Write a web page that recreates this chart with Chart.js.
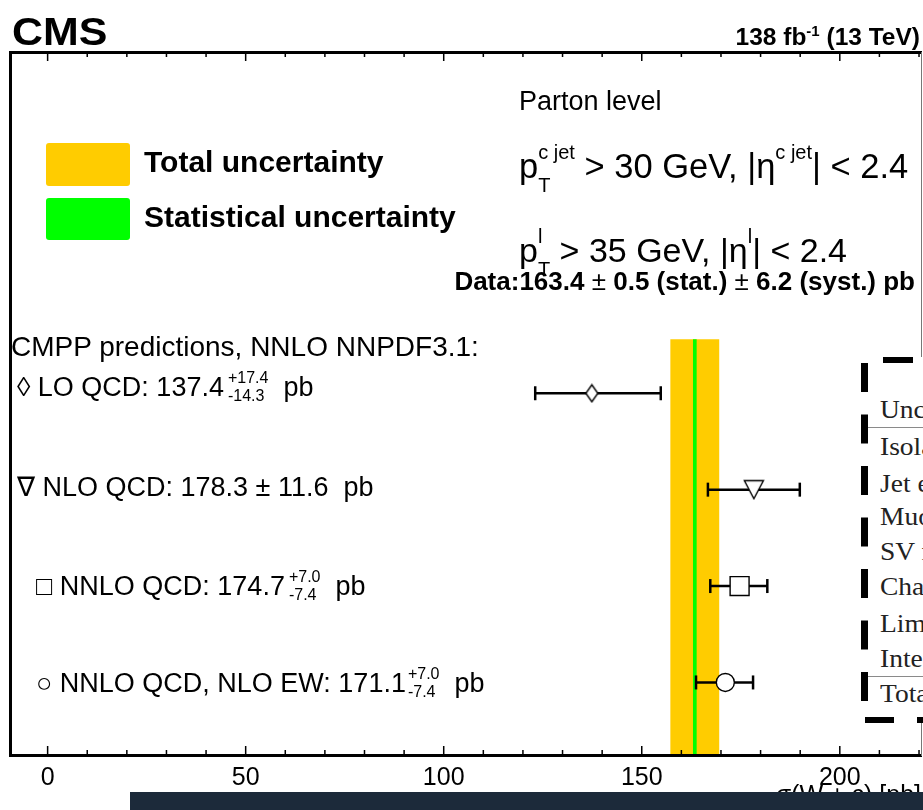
<!DOCTYPE html>
<html>
<head>
<meta charset="utf-8">
<script src="https://cdn.jsdelivr.net/npm/chart.js@4.4.1/dist/chart.umd.min.js"></script>
<style>
  html, body { margin: 0; padding: 0; background: #fff; overflow: hidden; }
  #wrap { position: relative; width: 923px; height: 810px; overflow: hidden;
          font-family: "Liberation Sans", Arial, Helvetica, sans-serif; color: #000; }
  #chart { position: absolute; left: 0; top: 0; }
  .t { position: absolute; white-space: nowrap; }
  .b { font-weight: bold; }
  .sc { display: inline-block; position: relative; text-align: left; vertical-align: baseline; }
  .sc > span { display: block; }
  .sup1 { position: relative; }
  .box { position: absolute; border-radius: 3px; }
  #table { position: absolute; left: 861px; top: 357px; width: 200px; height: 366px; background: #fff;
           font-family: "Liberation Serif", "DejaVu Serif", serif; font-size: 25px; color: #222; }
  #table .r { position: absolute; left: 19px; white-space: nowrap; line-height: 24px;
              transform: scaleX(1.1); transform-origin: 0 50%; }
  #table .rule { position: absolute; left: 7px; width: 200px; height: 1px; background: #8a8a8a; }
  #dashes { position: absolute; left: 850px; top: 345px; }
  #darkbar { position: absolute; left: 130px; top: 792px; width: 793px; height: 18px; background: #1c2a3a; }
</style>
</head>
<body>
<div id="wrap">
  <canvas id="chart" width="923" height="810"></canvas>

  <!-- header -->
  <div class="t b" data-b="45" data-s="38" style="left:12px;transform:scaleX(1.13);transform-origin:0 50%;">CMS</div>
  <div class="t b" data-b="45" data-s="24.5" style="right:3px;">138 fb<span style="font-size:15px;position:relative;top:-9px;">-1</span> (13 TeV)</div>

  <!-- legend -->
  <div class="box" style="left:46px;top:143px;width:84px;height:43px;background:#FFCC00;"></div>
  <div class="box" style="left:46px;top:198px;width:84px;height:42px;background:#00FF00;"></div>
  <div class="t b" data-b="172" data-s="30" style="left:144px;">Total uncertainty</div>
  <div class="t b" data-b="227" data-s="30" style="left:144px;">Statistical uncertainty</div>

  <!-- selection text -->
  <div class="t" data-b="110" data-s="27" style="left:519px;">Parton level</div>
  <div class="t" data-b="168" data-s="34.5" style="left:519px;">p<span class="sc" style="font-size:20px;line-height:33px;top:14px;"><span>c jet</span><span>T</span></span> &gt; 30 GeV, |η<span class="sup1" style="font-size:20px;top:-19px;">c jet</span>| &lt; 2.4</div>
  <div class="t" data-b="252" data-s="34" style="left:519px;">p<span class="sc" style="font-size:20px;line-height:33px;top:14px;"><span>l</span><span>T</span></span> &gt; 35 GeV, |η<span class="sup1" style="font-size:20px;top:-19px;">l</span>| &lt; 2.4</div>
  <div class="t b" data-b="290" data-s="26" style="right:8px;">Data:163.4 <span style="font-weight:normal">±</span> 0.5 (stat.) <span style="font-weight:normal">±</span> 6.2 (syst.) pb</div>

  <!-- predictions text -->
  <div class="t" data-b="357" data-s="28" style="left:11px;">CMPP predictions, NNLO NNPDF3.1:</div>
  <div class="t" data-b="396" data-s="27" style="left:17px;">◊ LO QCD: 137.4<span class="sc" style="font-size:16px;line-height:18px;top:5px;margin-left:4px;"><span>+17.4</span><span>-14.3</span></span>&nbsp; pb</div>
  <div class="t" data-b="496" data-s="27" style="left:17px;">∇ NLO QCD: 178.3 ± 11.6&nbsp; pb</div>
  <div class="t" data-b="595" data-s="27" style="left:36px;">□ NNLO QCD: 174.7<span class="sc" style="font-size:16px;line-height:18px;top:5px;margin-left:4px;"><span>+7.0</span><span>-7.4</span></span>&nbsp; pb</div>
  <div class="t" data-b="692" data-s="27" style="left:36px;">○ NNLO QCD, NLO EW: 171.1<span class="sc" style="font-size:16px;line-height:18px;top:5px;margin-left:2px;"><span>+7.0</span><span>-7.4</span></span>&nbsp; pb</div>

  <!-- inset table (cropped) -->
  <div id="table">
    <div class="r" style="top:41px;">Uncertainty source</div>
    <div class="rule" style="top:70px;"></div>
    <div class="r" style="top:78px;">Isolated lepton</div>
    <div class="r" style="top:115px;">Jet energy scale</div>
    <div class="r" style="top:148px;">Muon identification</div>
    <div class="r" style="top:183px;">SV mass</div>
    <div class="r" style="top:218px;">Charm fragmentation</div>
    <div class="r" style="top:255px;">Limited MC statistics</div>
    <div class="r" style="top:290px;">Integrated luminosity</div>
    <div class="rule" style="top:319px;"></div>
    <div class="r" style="top:325px;">Total</div>
  </div>
  <svg id="dashes" width="80" height="390" viewBox="850 345 80 390">
    <line x1="864.5" y1="363" x2="864.5" y2="723" stroke="#000" stroke-width="7" stroke-dasharray="29 22.5"/>
    <line x1="883" y1="360" x2="930" y2="360" stroke="#000" stroke-width="6" stroke-dasharray="30 22"/>
    <line x1="865" y1="720" x2="930" y2="720" stroke="#000" stroke-width="6" stroke-dasharray="29 23"/>
  </svg>

  <div id="darkbar"></div>
</div>

<script>
// ---------------- data ----------------
const predictionNames   = ['LO QCD', 'NLO QCD', 'NNLO QCD', 'NNLO QCD, NLO EW'];
const predictionValues  = [137.4, 178.3, 174.7, 171.1];
const predictionErrUp   = [17.4, 11.6, 7.0, 7.0];
const predictionErrDown = [14.3, 11.6, 7.4, 7.4];
const rowPositions      = [4, 3, 2, 1];
const measuredValue     = 163.4;
const measuredStat      = 0.5;
const measuredSyst      = 6.2;
const xTickValues       = [0, 10, 20, 30, 40, 50, 60, 70, 80, 90, 100, 110, 120, 130, 140, 150, 160, 170, 180, 190, 200, 210, 220];
const xTickLabels       = ['0', '50', '100', '150', '200'];

// ---------------- layout (not data) ----------------
const X_MIN = -9.5, X_MAX = 220.5;
const Y_MIN = 0.2474, Y_MAX = 7.540;
const BAND_TOP = 4.561;

// position text overlays by baseline
document.querySelectorAll('.t').forEach(el => {
  const s = parseFloat(el.dataset.s), b = parseFloat(el.dataset.b);
  const lh = 2 * s;
  el.style.fontSize = s + 'px';
  el.style.lineHeight = lh + 'px';
  el.style.top = (b - (0.905 * s + (lh - 1.117 * s) / 2)) + 'px';
});

function makeMarker(w, h, draw) {
  const c = document.createElement('canvas');
  c.width = w; c.height = h;
  const g = c.getContext('2d');
  g.fillStyle = '#fff'; g.strokeStyle = '#000'; g.lineWidth = 1.4;
  draw(g, w, h);
  return c;
}
const diamondMarker = makeMarker(15, 20, (g, w, h) => {
  g.beginPath(); g.moveTo(w / 2, 1.5); g.lineTo(w - 1.5, h / 2); g.lineTo(w / 2, h - 1.5); g.lineTo(1.5, h / 2);
  g.closePath(); g.fill(); g.stroke();
});
const triangleMarker = makeMarker(22, 21, (g, w, h) => {
  g.beginPath(); g.moveTo(1.5, 1.5); g.lineTo(w - 1.5, 1.5); g.lineTo(w / 2, h - 1.5);
  g.closePath(); g.fill(); g.stroke();
});
const markerStyles = [diamondMarker, triangleMarker, 'rect', 'circle'];
const markerRadius = [8, 10, 13.4, 9];

const totalUnc = Math.sqrt(measuredStat * measuredStat + measuredSyst * measuredSyst);

const datasets = [];
datasets.push({
  type: 'line', order: 20,
  data: [{x: measuredValue - totalUnc, y: BAND_TOP}, {x: measuredValue + totalUnc, y: BAND_TOP}],
  borderWidth: 0, pointRadius: 0, fill: 'start', backgroundColor: '#FFCC00', tension: 0
});
datasets.push({
  type: 'line', order: 19,
  data: [{x: measuredValue - measuredStat, y: BAND_TOP}, {x: measuredValue + measuredStat, y: BAND_TOP}],
  borderWidth: 0, pointRadius: 0, fill: 'start', backgroundColor: '#00FF00', tension: 0
});
predictionValues.forEach((v, i) => {
  datasets.push({
    type: 'line', order: 10,
    data: [{x: v - predictionErrDown[i], y: rowPositions[i]}, {x: v + predictionErrUp[i], y: rowPositions[i]}],
    borderColor: '#000', borderWidth: 2.5, fill: false, tension: 0,
    pointStyle: 'line', pointRotation: 90, pointRadius: 7, pointBorderWidth: 2.5,
    pointBorderColor: '#000', pointBackgroundColor: '#000'
  });
});
predictionValues.forEach((v, i) => {
  datasets.push({
    type: 'scatter', order: 1, label: predictionNames[i],
    data: [{x: v, y: rowPositions[i]}],
    pointStyle: markerStyles[i], pointRadius: markerRadius[i],
    pointBackgroundColor: '#fff', pointBorderColor: '#000', pointBorderWidth: 1.4
  });
});

const frameTicks = {
  id: 'frameTicks',
  afterDraw(chart) {
    const {ctx, chartArea: a, scales: {x}} = chart;
    ctx.save();
    ctx.strokeStyle = '#000';
    ctx.lineWidth = 1.5;
    x.ticks.forEach(t => {
      const px = x.getPixelForValue(t.value);
      const len = (t.value % 50 === 0) ? 9 : 5;
      ctx.beginPath();
      ctx.moveTo(px, a.bottom); ctx.lineTo(px, a.bottom - len);
      ctx.moveTo(px, a.top);    ctx.lineTo(px, a.top + len);
      ctx.stroke();
    });
    ctx.restore();
  }
};

function zeroSize(scale) {
  if (scale.isHorizontal()) scale.height = 0; else scale.width = 0;
  scale.paddingLeft = scale.paddingRight = scale.paddingTop = scale.paddingBottom = 0;
}
const hiddenAxis = (pos, width, color) => ({
  type: 'linear', position: pos, display: true,
  min: (pos === 'top') ? X_MIN : Y_MIN, max: (pos === 'top') ? X_MAX : Y_MAX,
  ticks: {display: false},
  grid: {display: false, drawOnChartArea: false, drawTicks: false},
  border: {display: true, width: width, color: color, z: 1},
  afterFit: zeroSize
});

new Chart(document.getElementById('chart'), {
  type: 'scatter',
  data: {datasets},
  options: {
    responsive: false, animation: false, devicePixelRatio: 1,
    layout: {autoPadding: false, padding: {left: 10, right: 2, top: 52, bottom: 0}},
    plugins: {legend: {display: false}, tooltip: {enabled: false}},
    scales: {
      x: {
        type: 'linear', position: 'bottom', min: X_MIN, max: X_MAX,
        afterBuildTicks: (scale) => { scale.ticks = xTickValues.map(v => ({value: v})); },
        afterFit: (scale) => { scale.height = 55; scale.paddingLeft = 0; scale.paddingRight = 0; },
        ticks: {
          autoSkip: false, maxRotation: 0, minRotation: 0, padding: 8, color: '#000',
          font: {family: '"Liberation Sans", Arial, sans-serif', size: 25},
          callback: (v) => { const s = String(v); return xTickLabels.includes(s) ? s : ''; }
        },
        grid: {display: false, drawOnChartArea: false, drawTicks: false},
        border: {display: true, width: 3, color: '#000', z: 1},
        title: {
          display: true, text: 'σ(W + c) [pb]', align: 'end', color: '#000',
          font: {family: '"Liberation Sans", Arial, sans-serif', size: 25, lineHeight: 1.1},
          padding: {top: 0, bottom: 0}
        }
      },
      y: {
        type: 'linear', position: 'left', min: Y_MIN, max: Y_MAX,
        ticks: {display: false},
        grid: {display: false, drawOnChartArea: false, drawTicks: false},
        border: {display: true, width: 3, color: '#000', z: 1},
        afterFit: zeroSize
      },
      x2: hiddenAxis('top', 3, '#000'),
      y2: hiddenAxis('right', 1, '#777')
    }
  },
  plugins: [frameTicks]
});
</script>
</body>
</html>
